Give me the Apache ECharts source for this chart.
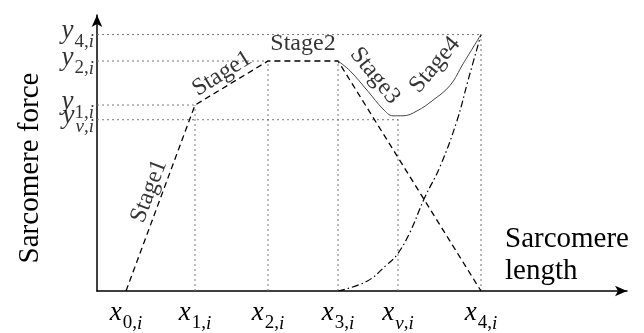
<!DOCTYPE html>
<html lang="en" style="height: 100%">

<head>
  <meta charset="utf-8">
  <style>
    html,
    body {
      margin: 0;
      padding: 0;
      width: 100%;
      height: 100%;
      overflow: hidden;
      background: #fff;
    }
  </style>
</head>

<body>
  <div id="container" style="height: 100%;width: 100%;"></div>

  <script type="text/javascript" src="https://cdn.jsdelivr.net/npm/echarts@6/dist/echarts.min.js"></script>
  <script type="text/javascript">

    // key lengths on the x axis and the label for each
    const xTicks = [29, 98, 171, 241, 301, 384];
    const xTickSubs = ['0', '1', '2', '3', 'v', '4'];
    const xGuideTop = [0, 190, 235, 235, 177, 262];

    // key forces on the y axis
    const yTicks = [175, 190, 235, 262];
    const yTickSubs = ['v', '1', '2', '4'];
    const yGuideEnd = [301, 98, 171, 384];

    // piecewise linear force (dashed)
    const stageX = [29, 98, 171, 241, 384];
    const stageY = [0, 190, 235, 235, 0];

    // rising passive curve (dash-dot)
    const passiveX = [241, 270, 290, 300, 313, 327, 343, 360, 371, 384];
    const passiveY = [0, 10, 27, 37, 60, 94, 127, 174, 215, 262];

    // total force (solid)
    const totalX = [241, 253, 271, 286, 296, 306, 320, 336, 353, 366, 384];
    const totalY = [235, 225, 204, 186, 179, 179, 184, 195, 210, 232, 262];

    // stage annotations
    const stageNames = ['Stage1', 'Stage1', 'Stage2', 'Stage3', 'Stage4'];
    const stageLabelX = [52, 125, 206, 278, 338];
    const stageLabelY = [102, 222, 253, 220, 231];
    const stageAngle = [69, 32, 0, -51, 50];

    const serif = 'Liberation Serif';

    var dom = document.getElementById('container');
    var myChart = echarts.init(dom, null, { renderer: 'canvas' });

    function zip(xs, ys) {
      return xs.map((x, i) => [x, ys[i]]);
    }

    const tickRich = {
      m: { fontFamily: serif, fontStyle: 'italic', fontSize: 27, color: '#000', verticalAlign: 'bottom', padding: [0, 1, 7, 0] },
      s: { fontFamily: serif, fontSize: 19, color: '#000', verticalAlign: 'bottom' },
      si: { fontFamily: serif, fontStyle: 'italic', fontSize: 19, color: '#000', verticalAlign: 'bottom' }
    };

    function tickText(letter, sub) {
      if (sub === 'v') return '{m|' + letter + '}{si|v}{s|,}{si|i}';
      return '{m|' + letter + '}{s|' + sub + ',}{si|i}';
    }

    const guideStyle = { color: '#777', width: 1, type: [2, 3] };
    let guides = [];
    xTicks.forEach((x, i) => {
      if (xGuideTop[i] > 0) {
        guides.push({ type: 'line', silent: true, symbol: 'none', lineStyle: guideStyle, data: [[x, 0], [x, xGuideTop[i]]], z: 1 });
      }
    });
    yTicks.forEach((y, i) => {
      guides.push({ type: 'line', silent: true, symbol: 'none', lineStyle: guideStyle, data: [[0, y], [yGuideEnd[i], y]], z: 1 });
    });

    var option = {
      animation: false,
      grid: { left: 97, right: 17, top: 15, bottom: 36 },
      xAxis: {
        type: 'value',
        min: 0,
        max: 530,
        splitLine: { show: false },
        axisTick: { show: false },
        axisLine: { lineStyle: { color: '#000', width: 1.5 }, symbol: ['none', 'arrow'], symbolSize: [8, 12] },
        axisLabel: {
          customValues: xTicks,
          hideOverlap: false,
          margin: 8,
          formatter: function (v) {
            return tickText('x', xTickSubs[xTicks.indexOf(v)]);
          },
          rich: tickRich
        }
      },
      yAxis: {
        type: 'value',
        min: 0,
        max: 282,
        splitLine: { show: false },
        axisTick: { show: false },
        axisLabel: { show: false },
        axisLine: { lineStyle: { color: '#000', width: 1.5 }, symbol: ['none', 'arrow'], symbolSize: [8, 12] }
      },
      graphic: [
        {
          type: 'text', x: 30, y: 168, rotation: Math.PI / 2,
          style: { text: 'Sarcomere force', fontFamily: serif, fontSize: 29, fill: '#000', align: 'center', verticalAlign: 'middle' }
        },
        {
          type: 'text', x: 505, y: 255,
          style: { text: 'Sarcomere\nlength', fontFamily: serif, fontSize: 29, lineHeight: 32, fill: '#000', align: 'left', verticalAlign: 'middle' }
        }
      ],
      series: guides.concat([
        {
          type: 'line', silent: true, symbol: 'none', z: 3,
          lineStyle: { color: '#000', width: 1.3, type: [6, 4] },
          data: zip(stageX, stageY)
        },
        {
          type: 'line', silent: true, symbol: 'none', smooth: 0.4, z: 3,
          lineStyle: { color: '#000', width: 1.2, type: [7, 3, 1.5, 3] },
          data: zip(passiveX, passiveY)
        },
        {
          type: 'line', silent: true, symbol: 'none', smooth: 0.4, z: 3,
          lineStyle: { color: '#444', width: 1 },
          data: zip(totalX, totalY)
        },
        {
          // y tick labels, drawn as labels so close ones are all kept
          type: 'scatter', silent: true, symbolSize: 0, z: 4, clip: false,
          label: {
            show: true, position: 'left', distance: 3,
            formatter: function (p) {
              return tickText('y', yTickSubs[p.dataIndex]);
            },
            rich: tickRich
          },
          labelLayout: { hideOverlap: false },
          data: yTicks.map((y) => [0, y])
        },
        {
          type: 'scatter', silent: true, symbolSize: 0, z: 4,
          label: {
            show: true, position: 'inside', formatter: '{b}',
            fontFamily: serif, fontSize: 24, color: '#000'
          },
          data: stageNames.map((n, i) => ({
            name: n,
            value: [stageLabelX[i], stageLabelY[i]],
            label: { rotate: stageAngle[i] }
          }))
        }
      ])
    };

    if (option && typeof option === 'object') {
      myChart.setOption(option);
    }

    window.addEventListener('resize', myChart.resize);

  </script>
</body>

</html>
